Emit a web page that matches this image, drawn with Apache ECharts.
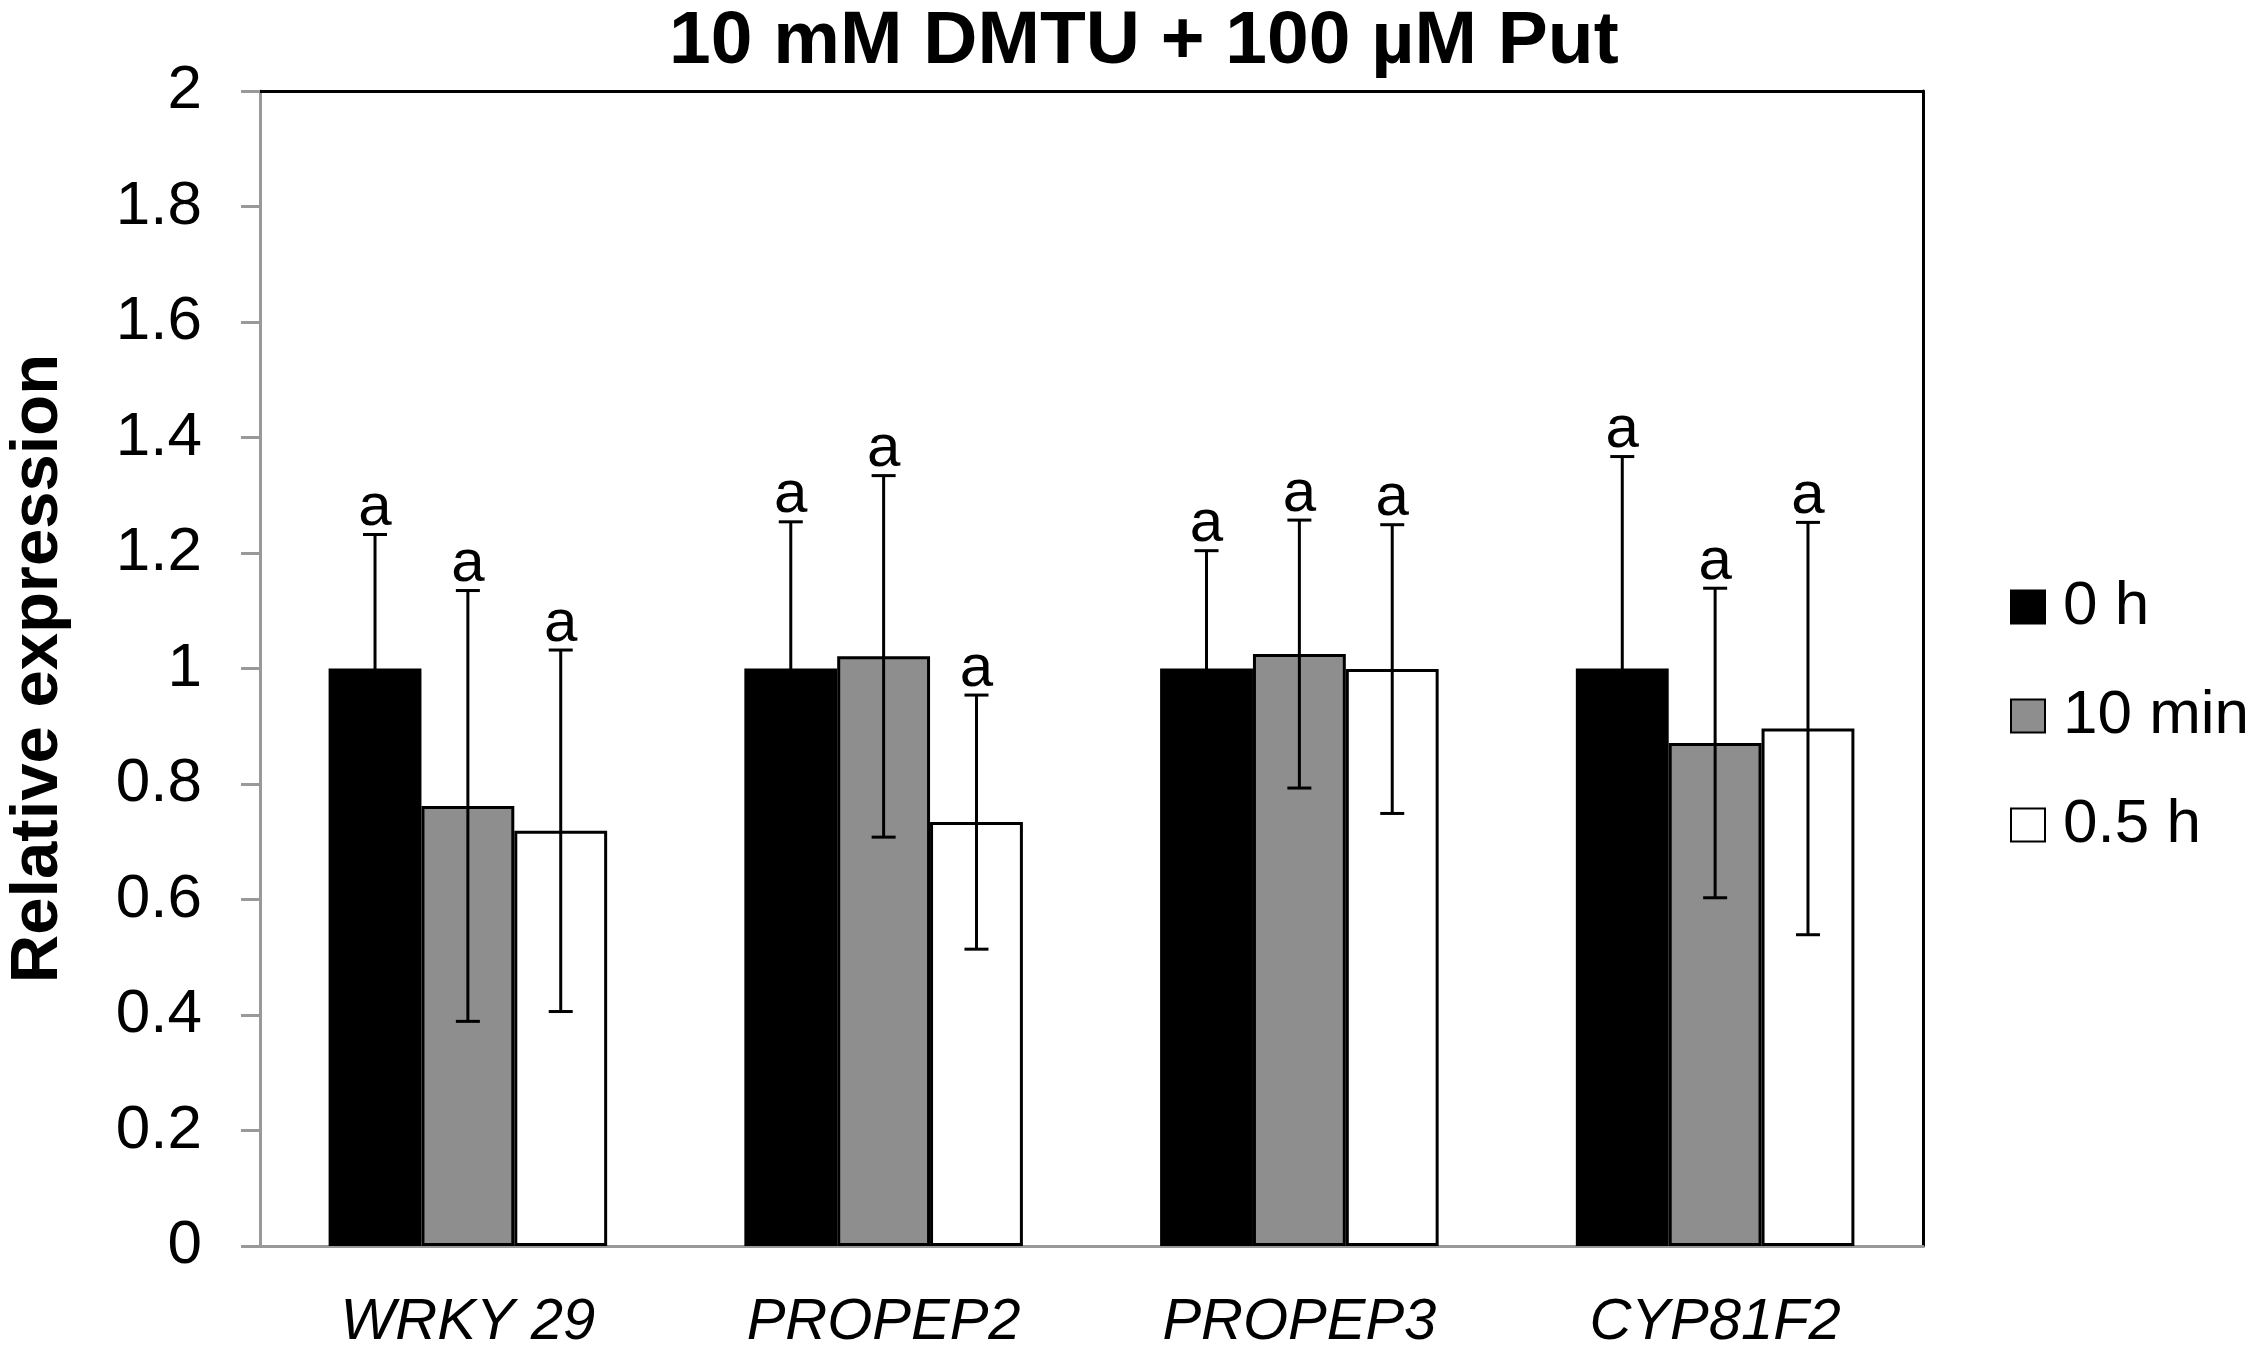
<!DOCTYPE html>
<html>
<head>
<meta charset="utf-8">
<script src="https://cdn.jsdelivr.net/npm/echarts@6/dist/echarts.min.js"></script>
<style>
  html, body { margin: 0; padding: 0; background: #fff; }
  #chart { width: 2256px; height: 1347px; }
</style>
</head>
<body>
<div id="chart"></div>
<script>
// genes on the x axis
var genes = ['WRKY 29', 'PROPEP2', 'PROPEP3', 'CYP81F2'];
var times = ['0 h', '10 min', '0.5 h'];
// mean relative expression per time point
var h0 = [1, 1, 1, 1];
var min10 = [0.762, 1.021, 1.025, 0.871];
var h05 = [0.719, 0.734, 0.999, 0.896];
// error bar half widths
var errH0 = [0.232, 0.254, 0.204, 0.367];
var errMin10 = [0.373, 0.313, 0.232, 0.268];
var errH05 = [0.313, 0.22, 0.25, 0.357];
// significance letters
var letH0 = ['a', 'a', 'a', 'a'];
var letMin10 = ['a', 'a', 'a', 'a'];
var letH05 = ['a', 'a', 'a', 'a'];
var yTicks = { min: 0, max: 2, step: 0.2 };

var font = 'Liberation Sans, Arial, Helvetica, sans-serif';
var catGap = 0.33;
var colors = ['#000000', '#8e8e8e', '#ffffff'];
var means = [h0, min10, h05];
var errs = [errH0, errMin10, errH05];
var lets = [letH0, letMin10, letH05];

function errSeries(k) {
  var data = [];
  for (var i = 0; i < genes.length; i++) {
    data.push([i, means[k][i], errs[k][i], lets[k][i]]);
  }
  return {
    type: 'custom',
    name: 'err' + k,
    xAxisIndex: 0,
    yAxisIndex: 0,
    z: 10,
    data: data,
    renderItem: function (params, api) {
      var cat = api.value(0);
      var m = api.value(1);
      var e = api.value(2);
      var txt = data[params.dataIndex][3];
      var center = api.coord([cat, 0])[0];
      var catW = api.size([1, 0])[0];
      var bw = catW * (1 - catGap) / 3;
      var x = center + (k - 1) * bw;
      var yHi = api.coord([cat, m + e])[1];
      var yLo = api.coord([cat, m - e])[1];
      var st = { stroke: '#000', lineWidth: 3 };
      return {
        type: 'group',
        children: [
          { type: 'line', shape: { x1: x, y1: yHi, x2: x, y2: yLo }, style: st },
          { type: 'line', shape: { x1: x - 12, y1: yHi, x2: x + 12, y2: yHi }, style: st },
          { type: 'line', shape: { x1: x - 12, y1: yLo, x2: x + 12, y2: yLo }, style: st },
          { type: 'text', x: x, y: yHi + 4,
            style: { text: txt, fill: '#000', font: '60px ' + font,
                     textAlign: 'center', textVerticalAlign: 'bottom' } }
        ]
      };
    }
  };
}

var series = [];
for (var k = 0; k < 3; k++) {
  series.push({
    name: times[k],
    type: 'bar',
    data: means[k],
    barGap: '0%',
    barCategoryGap: (catGap * 100) + '%',
    itemStyle: { color: colors[k], borderColor: '#000', borderWidth: 3 }
  });
}
for (var k2 = 0; k2 < 3; k2++) {
  series.push(errSeries(k2));
}

var myChart = echarts.init(document.getElementById('chart'));
var option = {
  animation: false,
  backgroundColor: '#fff',
  title: {
    text: '10 mM DMTU + 100 µM Put',
    left: 664,
    top: 0,
    textStyle: { fontFamily: font, fontSize: 75, fontWeight: 'bold', color: '#000' }
  },
  legend: {
    data: times,
    icon: 'rect',
    orient: 'vertical',
    left: 2005,
    top: 567,
    itemWidth: 34,
    itemHeight: 33,
    itemGap: 39,
    textStyle: { fontFamily: font, fontSize: 62, lineHeight: 62, color: '#000', padding: [8, 0, 0, 13] }
  },
  grid: { left: 260, right: 333, top: 91, bottom: 101, outerBoundsMode: 'none', containLabel: false },
  xAxis: [{
    type: 'category',
    data: genes,
    axisLine: { lineStyle: { color: '#999', width: 3 } },
    axisTick: { length: 17, lineStyle: { color: '#999', width: 3 } },
    axisLabel: { fontFamily: font, fontSize: 58, fontStyle: 'italic', color: '#000', margin: 48 }
  }, {
    type: 'category',
    data: genes,
    position: 'top',
    axisLine: { onZero: false, lineStyle: { color: '#000', width: 3 } },
    axisTick: { show: false },
    axisLabel: { show: false }
  }],
  yAxis: [{
    type: 'value',
    min: yTicks.min,
    max: yTicks.max,
    interval: yTicks.step,
    name: 'Relative expression',
    nameLocation: 'middle',
    nameGap: 188,
    nameTextStyle: { fontFamily: font, fontSize: 67, fontWeight: 'bold', color: '#000' },
    axisLine: { show: true, lineStyle: { color: '#999', width: 3 } },
    axisTick: { show: true, length: 19, lineStyle: { color: '#999', width: 3 } },
    splitLine: { show: false },
    axisLabel: {
      fontFamily: font, fontSize: 62, color: '#000', margin: 58,
      formatter: function (v) { return String(Math.round(v * 10) / 10); }
    }
  }, {
    type: 'value',
    min: yTicks.min,
    max: yTicks.max,
    interval: yTicks.step,
    position: 'right',
    axisLine: { show: true, onZero: false, lineStyle: { color: '#000', width: 3 } },
    axisTick: { show: false },
    axisLabel: { show: false },
    splitLine: { show: false }
  }],
  series: series
};
myChart.setOption(option);
</script>
</body>
</html>
